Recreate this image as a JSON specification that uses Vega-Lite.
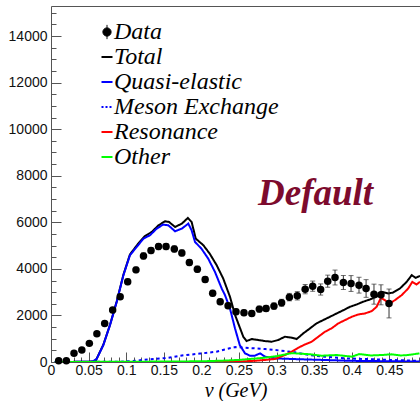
{
  "$schema": "https://vega.github.io/schema/vega-lite/v6.json",
  "width": 369,
  "height": 356,
  "autosize": {"type": "none"},
  "padding": {"left": 51, "top": 6, "right": 0, "bottom": 39},
  "background": "white",
  "config": {
    "view": {"stroke": null},
    "font": "Liberation Sans",
    "axis": {"grid": false, "domainColor": "#555", "tickColor": "#555", "domainWidth": 1, "tickWidth": 1, "labelFont": "Liberation Sans", "labelFontSize": 14, "labelColor": "#111", "labelFlush": false, "labelOverlap": false}
  },
  "datasets": {
    "curves": [
      {"c": "Total", "v": 0.005, "n": 0}, {"c": "Total", "v": 0.05, "n": 10}, {"c": "Total", "v": 0.058, "n": 30}, {"c": "Total", "v": 0.0607, "n": 140}, {"c": "Total", "v": 0.0696, "n": 740}, {"c": "Total", "v": 0.0785, "n": 1600}, {"c": "Total", "v": 0.0874, "n": 2600}, {"c": "Total", "v": 0.0963, "n": 3750}, {"c": "Total", "v": 0.105, "n": 4620}, {"c": "Total", "v": 0.116, "n": 5086}, {"c": "Total", "v": 0.125, "n": 5414}, {"c": "Total", "v": 0.134, "n": 5586}, {"c": "Total", "v": 0.143, "n": 5871}, {"c": "Total", "v": 0.1516, "n": 6043}, {"c": "Total", "v": 0.157, "n": 6014}, {"c": "Total", "v": 0.165, "n": 5800}, {"c": "Total", "v": 0.174, "n": 5943}, {"c": "Total", "v": 0.182, "n": 6186}, {"c": "Total", "v": 0.187, "n": 6014}, {"c": "Total", "v": 0.1925, "n": 5300}, {"c": "Total", "v": 0.2026, "n": 5014}, {"c": "Total", "v": 0.211, "n": 4657}, {"c": "Total", "v": 0.2203, "n": 4157}, {"c": "Total", "v": 0.229, "n": 3586}, {"c": "Total", "v": 0.238, "n": 2800}, {"c": "Total", "v": 0.245, "n": 2000}, {"c": "Total", "v": 0.2557, "n": 1086}, {"c": "Total", "v": 0.26, "n": 900}, {"c": "Total", "v": 0.267, "n": 986}, {"c": "Total", "v": 0.2757, "n": 943}, {"c": "Total", "v": 0.2846, "n": 900}, {"c": "Total", "v": 0.2935, "n": 871}, {"c": "Total", "v": 0.302, "n": 943}, {"c": "Total", "v": 0.311, "n": 1086}, {"c": "Total", "v": 0.32, "n": 1043}, {"c": "Total", "v": 0.3267, "n": 986}, {"c": "Total", "v": 0.3355, "n": 1229}, {"c": "Total", "v": 0.3444, "n": 1443}, {"c": "Total", "v": 0.353, "n": 1657}, {"c": "Total", "v": 0.362, "n": 1800}, {"c": "Total", "v": 0.371, "n": 1943}, {"c": "Total", "v": 0.38, "n": 2086}, {"c": "Total", "v": 0.389, "n": 2229}, {"c": "Total", "v": 0.3976, "n": 2371}, {"c": "Total", "v": 0.4065, "n": 2471}, {"c": "Total", "v": 0.415, "n": 2586}, {"c": "Total", "v": 0.424, "n": 2686}, {"c": "Total", "v": 0.433, "n": 2800}, {"c": "Total", "v": 0.4397, "n": 3014}, {"c": "Total", "v": 0.4486, "n": 2943}, {"c": "Total", "v": 0.455, "n": 2986}, {"c": "Total", "v": 0.464, "n": 3157}, {"c": "Total", "v": 0.473, "n": 3443}, {"c": "Total", "v": 0.4797, "n": 3729}, {"c": "Total", "v": 0.485, "n": 3614}, {"c": "Total", "v": 0.4907, "n": 3700},
      {"c": "Quasi-elastic", "v": 0.005, "n": 0}, {"c": "Quasi-elastic", "v": 0.055, "n": 10}, {"c": "Quasi-elastic", "v": 0.0607, "n": 130}, {"c": "Quasi-elastic", "v": 0.0696, "n": 729}, {"c": "Quasi-elastic", "v": 0.0785, "n": 1586}, {"c": "Quasi-elastic", "v": 0.0874, "n": 2586}, {"c": "Quasi-elastic", "v": 0.0963, "n": 3729}, {"c": "Quasi-elastic", "v": 0.105, "n": 4586}, {"c": "Quasi-elastic", "v": 0.114, "n": 4943}, {"c": "Quasi-elastic", "v": 0.123, "n": 5300}, {"c": "Quasi-elastic", "v": 0.1316, "n": 5443}, {"c": "Quasi-elastic", "v": 0.1406, "n": 5729}, {"c": "Quasi-elastic", "v": 0.149, "n": 5900}, {"c": "Quasi-elastic", "v": 0.156, "n": 5871}, {"c": "Quasi-elastic", "v": 0.165, "n": 5614}, {"c": "Quasi-elastic", "v": 0.174, "n": 5729}, {"c": "Quasi-elastic", "v": 0.1826, "n": 5943}, {"c": "Quasi-elastic", "v": 0.187, "n": 5657}, {"c": "Quasi-elastic", "v": 0.1915, "n": 5157}, {"c": "Quasi-elastic", "v": 0.2, "n": 4871}, {"c": "Quasi-elastic", "v": 0.209, "n": 4443}, {"c": "Quasi-elastic", "v": 0.218, "n": 3871}, {"c": "Quasi-elastic", "v": 0.227, "n": 3157}, {"c": "Quasi-elastic", "v": 0.2314, "n": 2871}, {"c": "Quasi-elastic", "v": 0.238, "n": 2300}, {"c": "Quasi-elastic", "v": 0.2447, "n": 1443}, {"c": "Quasi-elastic", "v": 0.251, "n": 729}, {"c": "Quasi-elastic", "v": 0.258, "n": 371}, {"c": "Quasi-elastic", "v": 0.2646, "n": 271}, {"c": "Quasi-elastic", "v": 0.271, "n": 271}, {"c": "Quasi-elastic", "v": 0.278, "n": 371}, {"c": "Quasi-elastic", "v": 0.2846, "n": 229}, {"c": "Quasi-elastic", "v": 0.298, "n": 157}, {"c": "Quasi-elastic", "v": 0.32, "n": 129}, {"c": "Quasi-elastic", "v": 0.364, "n": 86}, {"c": "Quasi-elastic", "v": 0.4, "n": 50}, {"c": "Quasi-elastic", "v": 0.49, "n": 20},
      {"c": "Meson Exchange", "v": 0.005, "n": 0}, {"c": "Meson Exchange", "v": 0.09, "n": 10}, {"c": "Meson Exchange", "v": 0.109, "n": 43}, {"c": "Meson Exchange", "v": 0.132, "n": 120}, {"c": "Meson Exchange", "v": 0.154, "n": 170}, {"c": "Meson Exchange", "v": 0.176, "n": 285}, {"c": "Meson Exchange", "v": 0.198, "n": 360}, {"c": "Meson Exchange", "v": 0.22, "n": 440}, {"c": "Meson Exchange", "v": 0.231, "n": 540}, {"c": "Meson Exchange", "v": 0.245, "n": 640}, {"c": "Meson Exchange", "v": 0.258, "n": 614}, {"c": "Meson Exchange", "v": 0.271, "n": 586}, {"c": "Meson Exchange", "v": 0.285, "n": 557}, {"c": "Meson Exchange", "v": 0.298, "n": 514}, {"c": "Meson Exchange", "v": 0.311, "n": 471}, {"c": "Meson Exchange", "v": 0.3245, "n": 414}, {"c": "Meson Exchange", "v": 0.338, "n": 329}, {"c": "Meson Exchange", "v": 0.351, "n": 271}, {"c": "Meson Exchange", "v": 0.364, "n": 229}, {"c": "Meson Exchange", "v": 0.391, "n": 157}, {"c": "Meson Exchange", "v": 0.4176, "n": 129}, {"c": "Meson Exchange", "v": 0.453, "n": 86}, {"c": "Meson Exchange", "v": 0.49, "n": 50},
      {"c": "Resonance", "v": 0.2, "n": 0}, {"c": "Resonance", "v": 0.25, "n": 20}, {"c": "Resonance", "v": 0.27, "n": 50}, {"c": "Resonance", "v": 0.285, "n": 90}, {"c": "Resonance", "v": 0.298, "n": 129}, {"c": "Resonance", "v": 0.311, "n": 300}, {"c": "Resonance", "v": 0.32, "n": 443}, {"c": "Resonance", "v": 0.329, "n": 614}, {"c": "Resonance", "v": 0.338, "n": 757}, {"c": "Resonance", "v": 0.3467, "n": 871}, {"c": "Resonance", "v": 0.3555, "n": 1086}, {"c": "Resonance", "v": 0.3644, "n": 1300}, {"c": "Resonance", "v": 0.373, "n": 1443}, {"c": "Resonance", "v": 0.382, "n": 1657}, {"c": "Resonance", "v": 0.391, "n": 1800}, {"c": "Resonance", "v": 0.4, "n": 1943}, {"c": "Resonance", "v": 0.4087, "n": 2043}, {"c": "Resonance", "v": 0.4176, "n": 2086}, {"c": "Resonance", "v": 0.4265, "n": 2186}, {"c": "Resonance", "v": 0.433, "n": 2371}, {"c": "Resonance", "v": 0.4388, "n": 2757}, {"c": "Resonance", "v": 0.444, "n": 2657}, {"c": "Resonance", "v": 0.45, "n": 2514}, {"c": "Resonance", "v": 0.4574, "n": 2657}, {"c": "Resonance", "v": 0.4663, "n": 2871}, {"c": "Resonance", "v": 0.475, "n": 3157}, {"c": "Resonance", "v": 0.4805, "n": 3443}, {"c": "Resonance", "v": 0.486, "n": 3329}, {"c": "Resonance", "v": 0.4907, "n": 3443},
      {"c": "Other", "v": 0.005, "n": 0}, {"c": "Other", "v": 0.1, "n": 10}, {"c": "Other", "v": 0.2, "n": 30}, {"c": "Other", "v": 0.23, "n": 60}, {"c": "Other", "v": 0.25, "n": 90}, {"c": "Other", "v": 0.28, "n": 170}, {"c": "Other", "v": 0.3, "n": 250}, {"c": "Other", "v": 0.32, "n": 380}, {"c": "Other", "v": 0.335, "n": 350}, {"c": "Other", "v": 0.345, "n": 330}, {"c": "Other", "v": 0.36, "n": 270}, {"c": "Other", "v": 0.38, "n": 300}, {"c": "Other", "v": 0.4, "n": 230}, {"c": "Other", "v": 0.41, "n": 340}, {"c": "Other", "v": 0.425, "n": 280}, {"c": "Other", "v": 0.44, "n": 300}, {"c": "Other", "v": 0.453, "n": 330}, {"c": "Other", "v": 0.465, "n": 280}, {"c": "Other", "v": 0.475, "n": 300}, {"c": "Other", "v": 0.49, "n": 370}
    ],
    "points": [
      {"c": "Data", "v": 0.0102, "n": 56, "e": 40}, {"c": "Data", "v": 0.0204, "n": 56, "e": 40}, {"c": "Data", "v": 0.0306, "n": 373, "e": 60}, {"c": "Data", "v": 0.041, "n": 514, "e": 70}, {"c": "Data", "v": 0.051, "n": 800, "e": 80}, {"c": "Data", "v": 0.061, "n": 1213, "e": 90}, {"c": "Data", "v": 0.0714, "n": 1657, "e": 100}, {"c": "Data", "v": 0.082, "n": 2229, "e": 110}, {"c": "Data", "v": 0.092, "n": 2800, "e": 110}, {"c": "Data", "v": 0.102, "n": 3443, "e": 120}, {"c": "Data", "v": 0.113, "n": 3957, "e": 120}, {"c": "Data", "v": 0.123, "n": 4557, "e": 130}, {"c": "Data", "v": 0.133, "n": 4786, "e": 130}, {"c": "Data", "v": 0.143, "n": 4957, "e": 130}, {"c": "Data", "v": 0.153, "n": 4957, "e": 130}, {"c": "Data", "v": 0.164, "n": 4857, "e": 130}, {"c": "Data", "v": 0.174, "n": 4686, "e": 130}, {"c": "Data", "v": 0.184, "n": 4271, "e": 130}, {"c": "Data", "v": 0.1946, "n": 3986, "e": 130}, {"c": "Data", "v": 0.205, "n": 3543, "e": 130}, {"c": "Data", "v": 0.215, "n": 2957, "e": 120}, {"c": "Data", "v": 0.225, "n": 2586, "e": 120}, {"c": "Data", "v": 0.2355, "n": 2420, "e": 120}, {"c": "Data", "v": 0.246, "n": 2157, "e": 120}, {"c": "Data", "v": 0.2566, "n": 2114, "e": 120}, {"c": "Data", "v": 0.267, "n": 2086, "e": 120}, {"c": "Data", "v": 0.277, "n": 2271, "e": 130}, {"c": "Data", "v": 0.286, "n": 2300, "e": 130}, {"c": "Data", "v": 0.2965, "n": 2400, "e": 140}, {"c": "Data", "v": 0.3067, "n": 2543, "e": 150}, {"c": "Data", "v": 0.317, "n": 2786, "e": 160}, {"c": "Data", "v": 0.3275, "n": 2843, "e": 180}, {"c": "Data", "v": 0.338, "n": 3129, "e": 200}, {"c": "Data", "v": 0.348, "n": 3257, "e": 220}, {"c": "Data", "v": 0.3586, "n": 3114, "e": 240}, {"c": "Data", "v": 0.368, "n": 3471, "e": 260}, {"c": "Data", "v": 0.3777, "n": 3629, "e": 320}, {"c": "Data", "v": 0.3888, "n": 3414, "e": 300}, {"c": "Data", "v": 0.399, "n": 3371, "e": 340}, {"c": "Data", "v": 0.4096, "n": 3300, "e": 340}, {"c": "Data", "v": 0.419, "n": 3157, "e": 380}, {"c": "Data", "v": 0.4295, "n": 2914, "e": 430}, {"c": "Data", "v": 0.4388, "n": 2886, "e": 430}, {"c": "Data", "v": 0.4495, "n": 2514, "e": 620}
    ],
    "labels": [{"label": "Default", "v": 0.2753, "n": 6729}]
  },
  "resolve": {"scale": {"x": "shared", "y": "shared"}, "axis": {"x": "independent", "y": "independent"}},
  "layer": [
    {
      "data": {"name": "curves"},
      "mark": {"type": "line", "strokeWidth": 2, "clip": true},
      "encoding": {
        "x": {"field": "v", "type": "quantitative", "scale": {"domain": [0, 0.4907], "nice": false, "zero": false},
          "axis": {"orient": "bottom", "values": [0, 0.05, 0.1, 0.15, 0.2, 0.25, 0.3, 0.35, 0.4, 0.45], "format": "~g", "tickSize": -10, "labelPadding": 11, "domain": true,
            "title": "ν (GeV)", "titleFont": "Liberation Serif", "titleFontStyle": "italic", "titleFontWeight": "normal", "titleFontSize": 20, "titleColor": "#000", "titleBaseline": "alphabetic", "titleY": 34}},
        "y": {"field": "n", "type": "quantitative", "scale": {"domain": [0, 15290], "nice": false},
          "axis": {"orient": "left", "values": [0, 2000, 4000, 6000, 8000, 10000, 12000, 14000], "format": "d", "tickSize": -10, "labelPadding": 14, "domain": true, "title": null}},
        "color": {"field": "c", "type": "nominal",
          "scale": {"domain": ["Data", "Total", "Quasi-elastic", "Meson Exchange", "Resonance", "Other"], "range": ["#000000", "#000000", "#0000ff", "#0000ff", "#ff0000", "#00ff00"]},
          "legend": {
            "orient": "none", "legendX": 44, "legendY": 14, "title": null, "padding": 0, "rowPadding": 1,
            "labelFont": "Liberation Serif", "labelFontStyle": "italic", "labelFontSize": 24, "labelColor": "#000", "labelLimit": 400, "labelOffset": -5,
            "symbolSize": 225, "symbolStrokeWidth": 2,
            "encode": {
              "symbols": {"update": {
                "shape": {"signal": "datum.value === 'Data' ? 'M-0.55,0A0.55,0.55 0 1,1 0.55,0A0.55,0.55 0 1,1 -0.55,0Z M0,-0.95L0,0.95' : 'stroke'"},
                "size": {"signal": "datum.value === 'Data' ? 225 : 121"},
                "strokeWidth": {"signal": "datum.value === 'Data' ? 1 : 2"},
                "strokeDash": {"signal": "datum.value === 'Meson Exchange' ? [2, 2] : [1, 0]"},
                "fill": {"signal": "datum.value === 'Data' ? '#000' : 'transparent'"},
                "stroke": {"scale": "color", "field": "value"},
                "opacity": {"value": 1}
              }}
            }
          }},
        "strokeDash": {"field": "c", "type": "nominal", "legend": null,
          "scale": {"domain": ["Total", "Quasi-elastic", "Meson Exchange", "Resonance", "Other"], "range": [[1, 0], [1, 0], [3, 3], [1, 0], [1, 0]]}},
        "order": {"field": "v", "type": "quantitative"}
      }
    },
    {
      "data": {"name": "points"},
      "mark": {"type": "errorbar", "ticks": {"size": 5}, "color": "#333", "thickness": 1},
      "encoding": {
        "x": {"field": "v", "type": "quantitative", "axis": null},
        "y": {"field": "n", "type": "quantitative", "axis": null},
        "yError": {"field": "e"}
      }
    },
    {
      "data": {"name": "points"},
      "mark": {"type": "point", "filled": true, "size": 56, "opacity": 1},
      "encoding": {
        "x": {"field": "v", "type": "quantitative",
          "axis": {"orient": "bottom", "values": [0.01, 0.02, 0.03, 0.04, 0.06, 0.07, 0.08, 0.09, 0.11, 0.12, 0.13, 0.14, 0.16, 0.17, 0.18, 0.19, 0.21, 0.22, 0.23, 0.24, 0.26, 0.27, 0.28, 0.29, 0.31, 0.32, 0.33, 0.34, 0.36, 0.37, 0.38, 0.39, 0.41, 0.42, 0.43, 0.44, 0.46, 0.47, 0.48, 0.49], "labels": false, "domain": false, "tickSize": -5, "title": null}},
        "y": {"field": "n", "type": "quantitative",
          "axis": {"orient": "left", "values": [500, 1000, 1500, 2500, 3000, 3500, 4500, 5000, 5500, 6500, 7000, 7500, 8500, 9000, 9500, 10500, 11000, 11500, 12500, 13000, 13500, 14500, 15000], "labels": false, "domain": false, "tickSize": -5, "title": null}},
        "color": {"field": "c", "type": "nominal"}
      }
    },
    {
      "data": {"name": "labels"},
      "mark": {"type": "text", "font": "Liberation Serif", "fontStyle": "italic", "fontWeight": "bold", "fontSize": 37, "color": "#7d0b2d", "align": "left", "baseline": "alphabetic"},
      "encoding": {
        "x": {"field": "v", "type": "quantitative", "axis": {"orient": "top", "ticks": false, "labels": false, "domain": true, "title": null}},
        "y": {"field": "n", "type": "quantitative", "axis": null},
        "text": {"field": "label"}
      }
    }
  ]
}
